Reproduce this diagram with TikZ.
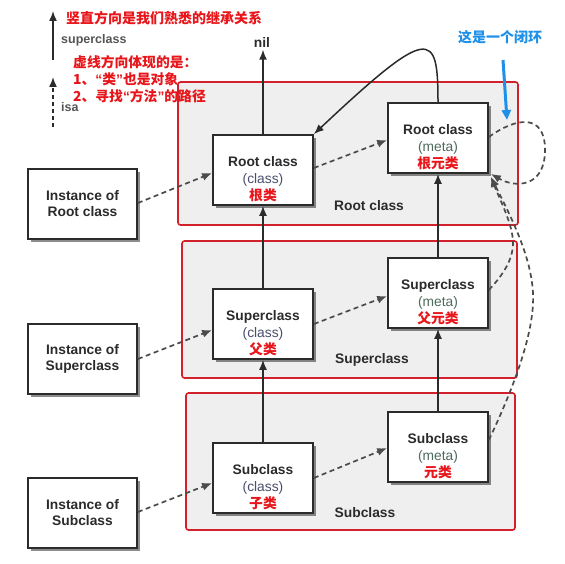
\documentclass[tikz,border=0pt]{standalone}
\usepackage{fontspec}
\setmainfont{Liberation Sans}
\newfontfamily\cjk{Noto Sans CJK SC}
\usetikzlibrary{shadows,arrows.meta}
\definecolor{redline}{HTML}{D3212B}
\definecolor{redtext}{HTML}{E8161B}
\definecolor{grayfill}{HTML}{EFEFEF}
\definecolor{ink}{HTML}{2B2B2B}
\definecolor{classc}{HTML}{4A4E6E}
\definecolor{metac}{HTML}{4E6B5C}
\definecolor{bluec}{HTML}{1E90E8}
\definecolor{legendc}{HTML}{555555}
\newcommand{\myLq}{{\rmfamily\bfseries “}}
\newcommand{\myRq}{{\rmfamily\bfseries ”}}
\begin{document}
\begin{tikzpicture}[x=1pt,y=-1pt,
  box/.style={draw=ink, line width=1.7pt, fill=white, minimum width=100pt, minimum height=70pt, inner sep=0pt,
    drop shadow={shadow xshift=2.5pt, shadow yshift=-3pt, opacity=0.45, fill=black}},
  inst/.style={box, minimum width=109pt, align=center, font=\fontsize{13.8}{16}\selectfont\bfseries, text=ink},
  clabel/.style={align=center, yshift=-9pt, font=\fontsize{13.8}{17}\selectfont, text=ink},
  group/.style={draw=redline, line width=1.6pt, fill=grayfill, rounded corners=2.5pt, inner sep=0pt},
  glabel/.style={font=\fontsize{13.8}{16}\selectfont\bfseries, text=ink, inner sep=1pt},
  solidarrow/.style={draw=ink, line width=1.5pt, -{Latex[length=10pt,width=8pt]}},
  dasharrow/.style={draw=ink!85, line width=1.7pt, dash pattern=on 5pt off 3.5pt, -{Latex[length=10pt,width=8pt]}},
  redlabel/.style={font=\cjk\bfseries\fontsize{13.8}{16}\selectfont, text=redtext, inner sep=0pt, anchor=west},
  legendtext/.style={font=\fontsize{12.5}{15}\selectfont\bfseries, text=legendc, inner sep=0pt, anchor=west},
  bluearrow/.style={draw=bluec, line width=3pt, -{Triangle[length=10pt,width=9pt]}}
]
\useasboundingbox (0,0) rectangle (564,564);
\fill[white] (0,0) rectangle (564,564);

% groups
\node[group, minimum width=340pt, minimum height=143pt] (g1) at (348,153.5) {};
\node[group, minimum width=335pt, minimum height=137pt] (g2) at (349.5,309.5) {};
\node[group, minimum width=329pt, minimum height=137pt] (g3) at (350.5,461.5) {};
\node[glabel] (g1l) at (369,206) {Root class};
\node[glabel] (g2l) at (372,360) {Superclass};
\node[glabel] (g3l) at (365,513) {Subclass};

% legend
\coordinate (l1a) at (53,60);
\coordinate (l1b) at (53,11);
\draw[solidarrow] (l1a) -- (l1b);
\node[legendtext] (lsup) at (61,40) {superclass};
\coordinate (l2a) at (53,127);
\coordinate (l2b) at (53,77);
\draw[draw=ink, line width=1.5pt, dash pattern=on 4pt off 3pt, -{Latex[length=10pt,width=8pt]}] (l2a) -- (l2b);
\node[legendtext] (lisa) at (61,107) {isa};

\node[redlabel, font=\cjk\bfseries\fontsize{14}{16}\selectfont] (r1) at (66,18) {竖直方向是我们熟悉的继承关系};
\node[redlabel] (r2) at (73,62) {虚线方向体现的是：};
\node[redlabel] (r3) at (73,79) {1、\myLq 类\myRq 也是对象};
\node[redlabel] (r4) at (73,96) {2、寻找\myLq 方法\myRq 的路径};

\node[font=\fontsize{13.8}{15}\selectfont\bfseries, text=ink, inner sep=1.5pt] (nil) at (262,43) {nil};

\node[font=\cjk\bfseries\fontsize{14}{16}\selectfont, text=bluec, inner sep=0pt] (blabel) at (500,37) {这是一个闭环};
\coordinate (bA) at (503,60);
\coordinate (bB) at (507,120);
\draw[bluearrow] (bA) -- (bB);

% instance boxes
\node[inst] (irc) at (82.5,204) {Instance of\\Root class};
\node[inst] (isc) at (82.5,359) {Instance of\\Superclass};
\node[inst] (isb) at (82.5,513) {Instance of\\Subclass};

% class boxes
\node[box, label={[clabel]center:{{\bfseries Root class}\\{\color{classc}(class)}\\{\cjk\bfseries\color{redtext}根类}}}] (rcc) at (263,170) {};
\node[box, label={[clabel]center:{{\bfseries Superclass}\\{\color{classc}(class)}\\{\cjk\bfseries\color{redtext}父类}}}] (scc) at (263,324) {};
\node[box, label={[clabel]center:{{\bfseries Subclass}\\{\color{classc}(class)}\\{\cjk\bfseries\color{redtext}子类}}}] (sbc) at (263,478) {};

% meta boxes
\node[box, label={[clabel]center:{{\bfseries Root class}\\{\color{metac}(meta)}\\{\cjk\bfseries\color{redtext}根元类}}}] (rcm) at (438,138) {};
\node[box, label={[clabel]center:{{\bfseries Superclass}\\{\color{metac}(meta)}\\{\cjk\bfseries\color{redtext}父元类}}}] (scm) at (438,293) {};
\node[box, label={[clabel]center:{{\bfseries Subclass}\\{\color{metac}(meta)}\\{\cjk\bfseries\color{redtext}元类}}}] (sbm) at (438,447) {};

% superclass (solid) arrows
\draw[solidarrow] (sbc.north) -- (scc.south);
\draw[solidarrow] (scc.north) -- (rcc.south);
\draw[solidarrow] (rcc.north) -- (rcc.north |- nil.south);
\draw[solidarrow] (sbm.north) -- (scm.south);
\draw[solidarrow] (scm.north) -- (rcm.south);
\draw[solidarrow] (rcm.north) .. controls (438,30) and (430,25) .. (rcc.north east);

% isa (dashed) arrows
\draw[dasharrow] ([yshift=1pt]irc.east) -- ([yshift=-3pt]rcc.west);
\draw[dasharrow] ([yshift=2pt]rcc.east) -- ([yshift=-2pt]rcm.west);
\draw[dasharrow] (isc.east) -- ([yshift=-6pt]scc.west);
\draw[dasharrow] (scc.east) -- ([yshift=-3pt]scm.west);
\draw[dasharrow] ([yshift=1pt]isb.east) -- ([yshift=-5pt]sbc.west);
\draw[dasharrow] (sbc.east) -- ([yshift=-1pt]sbm.west);

\draw[dasharrow] ([yshift=1pt]rcm.east) .. controls (515,118) and (545,112) .. (545,150)
   .. controls (545,188) and (515,188) .. ([shift={(2pt,0pt)}]rcm.south east);
\draw[dasharrow] ([yshift=3pt]scm.east) .. controls (500,278) and (513,262) .. (513,243)
   .. controls (513,225) and (500,200) .. ([shift={(2pt,-3pt)}]rcm.south east);
\draw[dasharrow] ([yshift=7pt]sbm.east) .. controls (515,385) and (535,330) .. (533,293)
   .. controls (531,255) and (510,215) .. ([shift={(2pt,-3pt)}]rcm.south east);
\end{tikzpicture}
\end{document}
